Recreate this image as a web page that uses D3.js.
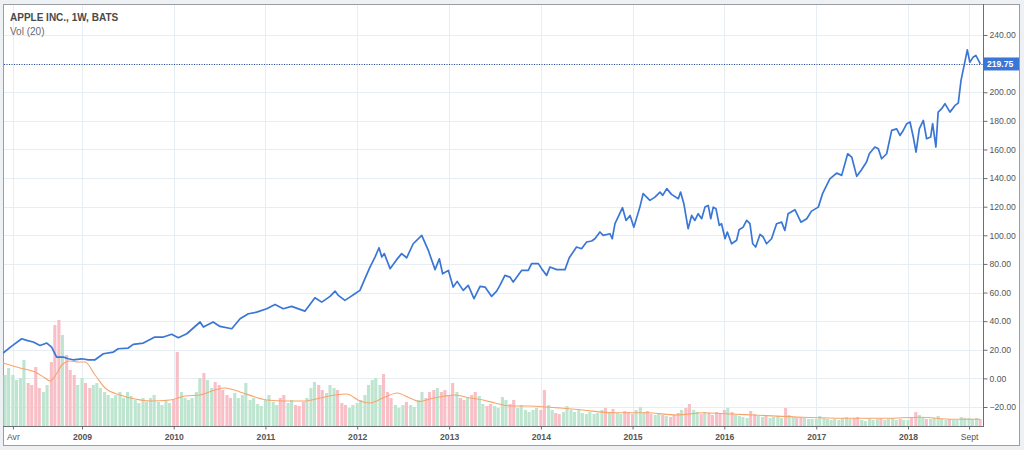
<!DOCTYPE html>
<html><head><meta charset="utf-8">
<script src="https://cdn.jsdelivr.net/npm/d3@7"></script>
<style>
html,body{margin:0;padding:0;background:#eef1f4;}
svg{display:block;font-family:"Liberation Sans",Arial,sans-serif;}
</style></head><body>
<svg id="c" width="1024" height="450"></svg>
<script>
// ---------------- data ----------------
const title = "APPLE INC., 1W, BATS";
const volLabel = "Vol (20)";
const lastPrice = 219.75;

const priceDates = ["2008-02-22","2008-03-26","2008-05-06","2008-05-26","2008-06-21","2008-07-18","2008-08-14","2008-09-02","2008-09-22","2008-10-19","2008-11-07","2008-11-27","2008-12-31",
"2009-01-26","2009-02-22","2009-03-27","2009-05-06","2009-05-25","2009-07-04","2009-07-24","2009-09-02","2009-10-18","2009-11-21","2009-12-24",
"2010-01-19","2010-02-22","2010-04-16","2010-04-29","2010-06-07","2010-07-04","2010-08-20","2010-09-22","2010-10-25","2010-11-27",
"2011-01-06","2011-02-08","2011-03-13","2011-04-15","2011-06-07","2011-07-17","2011-08-13","2011-09-15","2011-10-05","2011-10-18","2011-11-13","2011-12-03","2011-12-23",
"2012-01-12","2012-02-01","2012-02-21","2012-03-12","2012-03-28","2012-04-08","2012-04-18","2012-05-11","2012-06-06","2012-06-26","2012-07-16","2012-08-11","2012-09-14","2012-10-10","2012-11-06","2012-11-23","2012-12-06","2012-12-29",
"2013-01-17","2013-02-02","2013-02-26","2013-03-18","2013-04-10","2013-05-04","2013-05-24","2013-06-19","2013-07-09","2013-07-22","2013-08-11","2013-08-31","2013-09-13","2013-10-17","2013-11-12","2013-11-25","2013-12-22",
"2014-01-04","2014-01-24","2014-02-06","2014-03-05","2014-04-07","2014-04-24","2014-05-23","2014-06-12","2014-07-02","2014-07-22","2014-08-04","2014-08-24","2014-09-06","2014-10-03","2014-10-12","2014-10-23","2014-11-22","2014-12-06","2014-12-22",
"2015-01-06","2015-01-30","2015-02-12","2015-03-11","2015-03-31","2015-04-20","2015-05-01","2015-05-17","2015-06-05","2015-07-02","2015-07-11","2015-07-24","2015-08-10","2015-08-24","2015-09-06","2015-09-19","2015-10-03","2015-10-16","2015-10-29","2015-11-08","2015-11-18","2015-11-29","2015-12-12","2015-12-21",
"2016-01-04","2016-01-13","2016-01-30","2016-02-19","2016-02-29","2016-03-16","2016-03-30","2016-04-12","2016-04-23","2016-05-05","2016-05-22","2016-06-04","2016-06-17","2016-07-07","2016-07-27","2016-08-16","2016-08-29","2016-09-11","2016-10-08","2016-11-01","2016-11-24","2016-12-13",
"2017-01-09","2017-01-26","2017-02-24","2017-03-23","2017-04-12","2017-05-06","2017-05-22","2017-06-11","2017-06-30","2017-07-20","2017-07-31","2017-08-22","2017-09-05","2017-09-18","2017-10-08","2017-10-28","2017-11-17","2017-11-30","2017-12-13","2017-12-27",
"2018-01-09","2018-01-22","2018-02-02","2018-02-15","2018-03-03","2018-03-16","2018-04-01","2018-04-09","2018-04-22","2018-05-01","2018-05-15","2018-05-28","2018-06-17","2018-07-07","2018-07-20","2018-07-31","2018-08-11","2018-08-25","2018-09-04","2018-09-18","2018-09-28","2018-10-16"];

const priceValues = [17.7,22.4,27.7,26.6,25.4,23.0,24.7,21.9,14.9,14.9,13.7,13.0,13.7,
13.0,13.0,17.2,18.4,20.7,21.2,23.8,24.7,28.9,28.9,30.8,
28.4,31.2,39.4,35.9,39.4,36.3,34.7,41.7,45.2,46.3,
48.7,51.7,48.7,50.3,47.0,56.4,53.3,57.3,61.0,58.0,54.5,56.8,59.2,
61.5,69.7,77.8,84.8,91.3,84.8,87.2,76.7,83.0,87.2,84.3,94.1,100.0,89.5,76.0,83.6,73.1,75.5,
63.8,67.8,61.5,65.0,55.7,64.3,63.8,57.3,61.0,65.0,72.0,70.8,67.3,75.5,75.5,80.2,80.2,
76.7,72.0,77.8,76.0,76.0,84.3,91.8,90.6,95.3,96.0,97.6,102.3,100.0,101.1,97.6,108.1,119.3,110.4,113.9,
105.7,119.7,129.1,124.4,126.7,130.2,127.9,132.6,128.6,125.6,130.2,122.1,104.6,113.9,110.4,115.1,111.6,119.7,120.9,111.6,119.7,118.5,106.9,108.1,
97.6,102.3,94.1,96.5,103.9,105.7,110.4,108.1,94.1,91.8,100.6,98.8,94.1,97.6,108.1,109.2,103.4,115.1,117.9,109.2,111.6,116.9,
119.7,129.1,139.5,143.5,141.9,157.0,154.7,141.2,145.8,151.2,157.0,161.7,160.5,153.5,157.0,173.3,174.4,169.8,173.3,178.0,
179.2,168.7,158.2,174.4,180.3,167.5,168.7,178.0,161.7,186.1,188.5,192.0,186.1,190.8,192.4,208.3,217.6,229.6,221.0,224.7,225.7,219.75];

// volume (millions of shares), one bar per half month from 2008-02-15
const volStart = "2008-02-15";
const volumes = [
1220,1020,1160,1020,920,960,1320,860,820,1180,760,680,820,1280,2020,2120,1820,1420,1120,1020,820,
960,860,760,820,860,760,680,620,560,620,680,560,680,600,520,460,560,480,560,620,480,420,520,460,
520,1480,680,560,520,560,680,960,1060,920,760,880,820,720,620,560,660,560,620,860,520,560,440,400,
520,620,480,420,560,620,460,520,420,400,480,560,760,880,820,720,660,820,760,720,460,420,360,420,
460,520,620,820,920,960,820,1040,680,560,420,360,420,480,420,380,520,680,560,680,720,760,680,720,
620,860,680,560,520,560,620,680,600,440,400,440,400,360,580,520,440,520,360,420,320,280,320,360,
320,720,420,320,260,240,280,400,320,280,320,260,240,280,240,260,320,360,280,340,260,240,300,280,
240,320,380,280,300,240,220,260,220,200,180,220,260,320,360,440,320,280,240,280,260,220,280,260,
320,360,280,220,200,180,160,300,240,200,180,200,160,180,200,160,360,220,180,160,180,160,140,140,
140,200,160,140,120,140,120,160,180,140,160,180,120,100,160,120,140,160,120,140,160,120,140,120,
120,160,280,220,160,140,140,160,200,140,120,140,120,120,180,160,160,140,160,140];

const volMaDates = ["2008-02-22","2008-04-29","2008-06-28","2008-08-07","2008-08-27","2008-09-16","2008-10-13","2008-11-14","2008-12-16",
"2009-01-13","2009-02-22","2009-04-03","2009-06-01","2009-07-31","2009-09-29","2009-12-17","2010-02-15","2010-04-16","2010-06-14","2010-07-24","2010-09-22","2010-11-20",
"2011-01-07","2011-03-20","2011-06-07","2011-08-06","2011-10-05","2011-11-21","2012-01-12","2012-02-21","2012-04-21","2012-06-07","2012-07-29","2012-09-07","2012-10-17","2012-12-15",
"2013-01-24","2013-03-25","2013-05-16","2013-07-02","2013-08-31","2013-11-19","2014-01-09","2014-03-18","2014-06-17","2014-10-15","2015-02-27","2015-06-26","2015-10-08",
"2016-01-23","2016-04-24","2016-11-09","2017-04-17","2017-10-09","2018-02-17","2018-06-29","2018-10-14"];
const volMaValues = [1260,1160,1080,960,900,1000,1220,1300,1280,
1280,1020,760,620,540,500,520,600,620,720,760,680,580,
520,500,500,560,620,640,500,460,580,660,560,490,540,600,
620,560,520,460,400,400,386,360,320,266,266,220,266,
240,220,174,154,154,174,134,134];

const yTicks = [-20,0,20,40,60,80,100,120,140,160,180,200,220,240];
const xTickDates = ["2008-04-01","2009-01-01","2010-01-01","2011-01-01","2012-01-01","2013-01-01","2014-01-01","2015-01-01","2016-01-01","2017-01-01","2018-01-01","2018-09-01"];
const xTickLabels = ["Avr","2009","2010","2011","2012","2013","2014","2015","2016","2017","2018","Sept"];

// ---------------- layout ----------------
const svg = d3.select("#c");
const L = 3, R = 983, T = 5, B = 426;
const parse = d3.timeParse("%Y-%m-%d");

svg.append("rect").attr("x",3.5).attr("y",4.5).attr("width",1016).attr("height",441)
  .attr("fill","#fff").attr("stroke","#9a9ea3");

const x = d3.scaleTime().domain([parse("2009-01-01"), parse("2018-01-01")]).range([82, 908]);
const y = d3.scaleLinear().domain([-20, 240]).range([407, 35]);
const yv = d3.scaleLinear().domain([0, 2400]).range([B, B - 120]);

svg.append("defs").append("clipPath").attr("id","clip")
  .append("rect").attr("x",L).attr("y",T).attr("width",R-L).attr("height",B-T);

// grid
const grid = svg.append("g");
grid.selectAll("line.h").data(yTicks).join("line")
  .attr("x1",L+1).attr("x2",R).attr("y1",d=>Math.round(y(d))+0.5).attr("y2",d=>Math.round(y(d))+0.5)
  .attr("stroke","#e6edf3");
grid.selectAll("line.v").data(xTickDates).join("line")
  .attr("y1",T).attr("y2",B).attr("x1",d=>Math.round(x(parse(d)))+0.5).attr("x2",d=>Math.round(x(parse(d)))+0.5)
  .attr("stroke","#e6edf3");

const plot = svg.append("g").attr("clip-path","url(#clip)");

// price points for colouring
const price = priceDates.map((d,i)=>({date:parse(d), v:priceValues[i]}));
const bis = d3.bisector(d=>d.date).left;
function priceAt(t){
  let i = bis(price, t);
  if (i<=0) return price[0].v;
  if (i>=price.length) return price[price.length-1].v;
  const a=price[i-1], b=price[i];
  return a.v + (b.v-a.v)*((t-a.date)/(b.date-a.date));
}

// volume bars
const s0 = parse(volStart);
const vol = volumes.map((v,i)=>{
  const d = new Date(s0.getFullYear(), s0.getMonth() + Math.ceil(i/2), i%2===0 ? 15 : 1);
  return {date:d, v:v};
});
vol.forEach((d,i)=>{
  const prev = i>0 ? vol[i-1].date : d3.timeDay.offset(d,-15);
  d.up = priceAt(d.date) >= priceAt(prev);
});
const bw = 3.1;
plot.selectAll("rect.vol").data(vol).join("rect")
  .attr("x",d=>x(d.date)-bw/2).attr("width",bw)
  .attr("y",d=>yv(d.v)).attr("height",d=>B-yv(d.v))
  .attr("fill",d=>d.up ? "#bde5cf" : "#f8bfc7");

// volume MA
const ma = volMaDates.map((d,i)=>({date:parse(d), v:volMaValues[i]}));
plot.append("path").datum(ma)
  .attr("d", d3.line().x(d=>x(d.date)).y(d=>yv(d.v)).curve(d3.curveMonotoneX))
  .attr("fill","none").attr("stroke","#f7a46a").attr("stroke-width",1.1);

// last price dotted line
svg.append("line").attr("x1",L+1).attr("x2",R).attr("y1",Math.round(y(lastPrice))+0.5).attr("y2",Math.round(y(lastPrice))+0.5)
  .attr("stroke","#2c4a9a").attr("stroke-dasharray","1,1.5");

// price line
plot.append("path").datum(price)
  .attr("d", d3.line().x(d=>x(d.date)).y(d=>y(d.v)))
  .attr("fill","none").attr("stroke","#3a76d6").attr("stroke-width",1.7).attr("stroke-linejoin","round");

// axes frame
svg.append("line").attr("x1",R+0.5).attr("x2",R+0.5).attr("y1",T-1).attr("y2",B+1).attr("stroke","#6b6f74");
svg.append("line").attr("x1",L).attr("x2",R+1).attr("y1",B+0.5).attr("y2",B+0.5).attr("stroke","#6b6f74");

// y axis (the 220 label sits under the last-price badge, so it is not printed)
const yLabelTicks = yTicks.filter(t => Math.abs(y(t) - y(lastPrice)) > 10);
const ya = svg.append("g").attr("transform",`translate(${R+0.5},0)`)
  .call(d3.axisRight(y).tickValues(yLabelTicks).tickFormat(d3.format(".2f")).tickSize(4).tickPadding(2));
ya.select(".domain").remove();
ya.selectAll("line").attr("stroke","#6b6f74");
ya.selectAll("text").attr("fill","#555").attr("font-size","8.6px").attr("font-family","Liberation Sans, Arial, sans-serif");

// x axis
const xa = svg.append("g").attr("transform",`translate(0,${B+0.5})`)
  .call(d3.axisBottom(x).tickValues(xTickDates.map(parse)).tickFormat((d,i)=>xTickLabels[i]).tickSize(3).tickPadding(4));
xa.select(".domain").remove();
xa.selectAll("line").attr("stroke","#6b6f74");
xa.selectAll("text").attr("fill","#555").attr("font-size","8.6px").attr("font-family","Liberation Sans, Arial, sans-serif")
  .attr("font-weight",(d,i)=> (i===0||i===xTickLabels.length-1) ? "normal" : "bold");

// last price label
const ly = y(lastPrice);
svg.append("rect").attr("x",R+1).attr("y",ly-6.5).attr("width",35).attr("height",13).attr("fill","#3a76d6");
svg.append("text").attr("x",R+4).attr("y",ly+3).attr("fill","#fff").attr("font-size","8.6px").attr("font-weight","bold")
  .text(d3.format(".2f")(lastPrice));

// titles
svg.append("text").attr("x",10).attr("y",21).attr("fill","#4a4a4a").attr("font-size","10px").attr("font-weight","bold").text(title);
svg.append("text").attr("x",10).attr("y",35).attr("fill","#6a6a6a").attr("font-size","10px").text(volLabel);
</script>
</body></html>
